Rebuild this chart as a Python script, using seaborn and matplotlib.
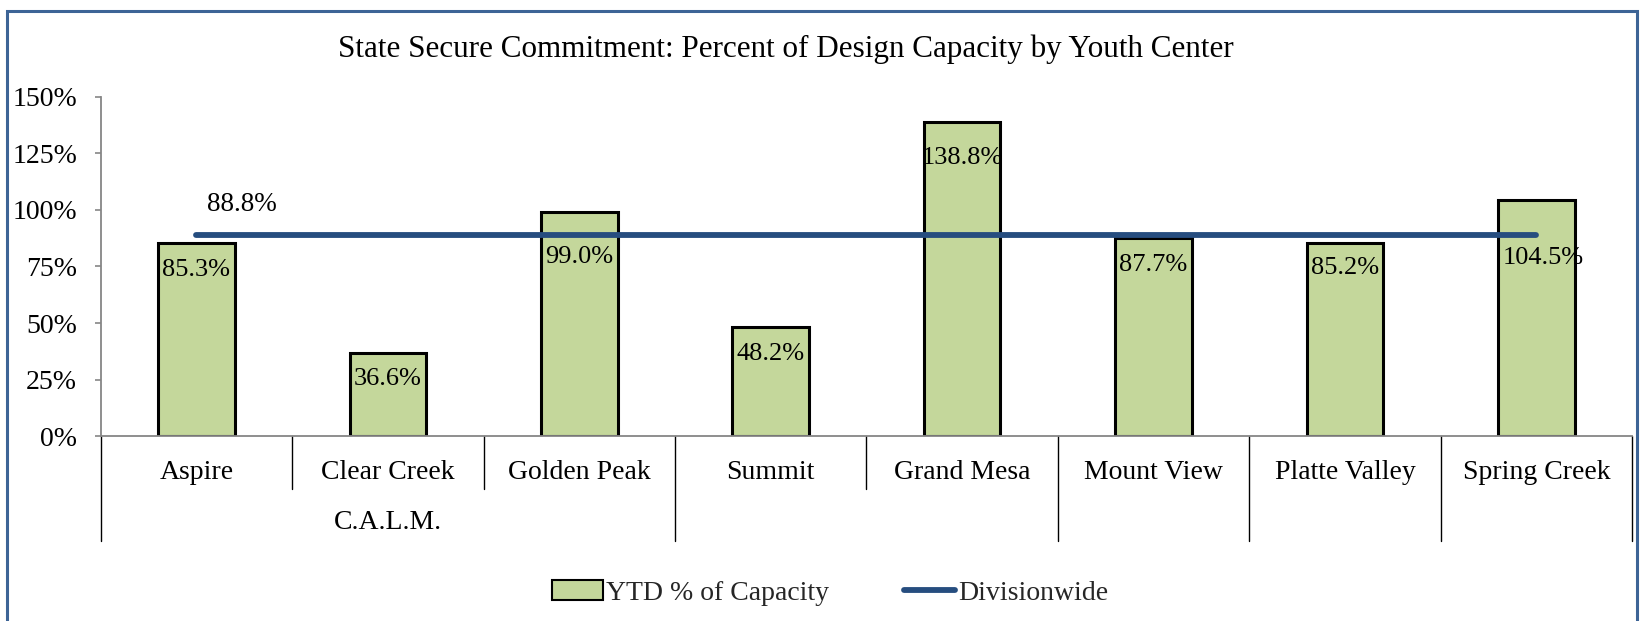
import matplotlib
matplotlib.use("Agg")
import matplotlib.pyplot as plt
import matplotlib.transforms as mtransforms
from matplotlib.patches import Patch, Rectangle
from matplotlib.lines import Line2D
import seaborn as sns
import pandas as pd

# ---- data ----
centers = ["Aspire", "Clear Creek", "Golden Peak", "Summit", "Grand Mesa",
           "Mount View", "Platte Valley", "Spring Creek"]
ytd_pct = [85.3, 36.6, 99.0, 48.2, 138.8, 87.7, 85.2, 104.5]
divisionwide = [88.8] * 8
group_names = ["C.A.L.M.", "", "", "", ""]
group_sizes = [3, 2, 1, 1, 1]
y_ticks = [0, 25, 50, 75, 100, 125, 150]

# ---- style ----
FONT = "Liberation Serif"
BAR_COLOR = "#C4D79B"
LINE_COLOR = "#264D7F"
FRAME_COLOR = "#3D6496"
AXIS_GRAY = "#868686"
label_dy_px = [27, 26, 45, 27, 36, 27, 25, 58]
label_dx_px = [0, 0, 0, 0, 0, 0, 0, 7]

sns.set_theme(style="white")
plt.rcParams["font.family"] = [FONT, "DejaVu Serif"]

fig = plt.figure(figsize=(16.45, 6.21), dpi=100)
ax = fig.add_axes([0.0612, 0.2973, 0.931, 0.5473])

df = pd.DataFrame({"center": centers, "ytd": ytd_pct, "div": divisionwide})

sns.barplot(data=df, x="center", y="ytd", ax=ax, color=BAR_COLOR,
            width=0.4, edgecolor="black", linewidth=2.2, saturation=1)
sns.lineplot(data=df, x="center", y="div", ax=ax, color=LINE_COLOR,
             linewidth=4.2, sort=False)
for ln in ax.lines:
    ln.set_solid_capstyle("round")

ax.set_xlim(-0.5, len(centers) - 0.5)
ax.set_ylim(0, 150)
ax.set_yticks(y_ticks)
ax.set_yticklabels([f"{t}%" for t in y_ticks], fontsize=20)
ax.set_xlabel("")
ax.set_ylabel("")
ax.set_xticks([])

for s in ["top", "right"]:
    ax.spines[s].set_visible(False)
for s in ["left", "bottom"]:
    ax.spines[s].set_color(AXIS_GRAY)
    ax.spines[s].set_linewidth(1.3)
ax.tick_params(axis="y", left=True, length=4, width=1.2, color=AXIS_GRAY,
               pad=13, labelcolor="black")

# bar value labels
for i, v in enumerate(ytd_pct):
    ax.annotate(f"{v:.1f}%", xy=(i, v), xytext=(label_dx_px[i], -label_dy_px[i]),
                textcoords="offset pixels", ha="center", va="center",
                fontsize=19, color="black")

# divisionwide label
ax.annotate(f"{divisionwide[0]:.1f}%", xy=(0, divisionwide[0]), xytext=(45, 31),
            textcoords="offset pixels", ha="center", va="center",
            fontsize=19.5, color="black")

# hierarchical category axis
trans = mtransforms.blended_transform_factory(ax.transData, ax.transAxes)
short_len = 0.154
long_len = 0.309
for i, name in enumerate(centers):
    ax.text(i, -0.105, name, transform=trans, ha="center", va="center",
            fontsize=20, color="black")
boundaries = [0]
for gs in group_sizes:
    boundaries.append(boundaries[-1] + gs)
for b in range(len(centers) + 1):
    L = long_len if b in boundaries else short_len
    ax.plot([b - 0.5, b - 0.5], [0, -L], transform=trans, color="black",
            linewidth=1.0, clip_on=False)
for gi, gname in enumerate(group_names):
    mid = (boundaries[gi] + boundaries[gi + 1]) / 2 - 0.5
    ax.text(mid, -0.253, gname, transform=trans, ha="center", va="center",
            fontsize=20, color="black")

# title
fig.text(0.478, 0.92, "State Secure Commitment: Percent of Design Capacity by Youth Center",
         ha="center", va="center", fontsize=22.4, color="black")

# legend
handles = [Patch(facecolor=BAR_COLOR, edgecolor="black", linewidth=1.5),
           Line2D([0], [0], color=LINE_COLOR, linewidth=4.2, solid_capstyle="round")]
fig.legend(handles, ["YTD % of Capacity", "Divisionwide"], loc="center",
           bbox_to_anchor=(0.5045, 0.045), ncol=2, frameon=False, fontsize=20,
           handlelength=1.85, handletextpad=0.1, columnspacing=2.7)

# outer frame
fig.patches.append(Rectangle((7 / 1645, -0.1), (1637 - 7) / 1645, 1.1 - 10.5 / 621,
                             transform=fig.transFigure, fill=False,
                             edgecolor=FRAME_COLOR, linewidth=2.2, clip_on=False))

fig.savefig("out.png", dpi=100)
